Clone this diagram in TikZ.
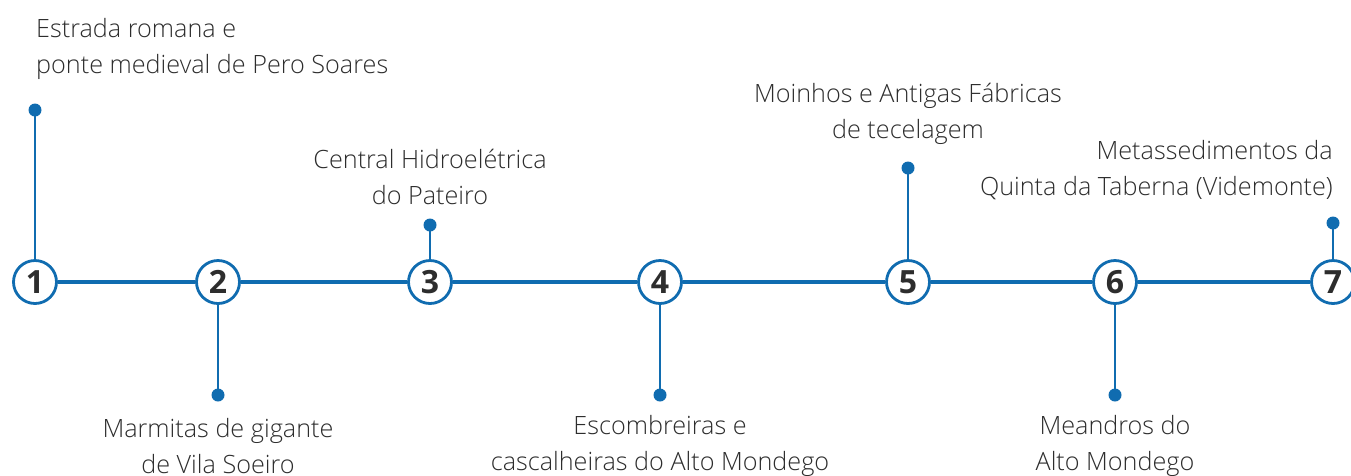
\documentclass[tikz,border=0pt]{standalone}
\usepackage{fontspec}
\setmainfont{Open Sans Light}
\newfontfamily\numfont{Open Sans}
\definecolor{tlblue}{RGB}{16,108,176}
\definecolor{tltext}{RGB}{45,45,45}
\begin{document}
\begin{tikzpicture}[x=1pt,y=-1pt,
  stop/.style={circle,draw=tlblue,line width=2.8pt,fill=white,minimum size=43pt,inner sep=0pt,font=\numfont\bfseries\fontsize{32}{32}\selectfont,text=tltext},
  pin/.style={circle,fill=tlblue,minimum size=13pt,inner sep=0pt},
  mainline/.style={draw=tlblue,line width=4.4pt},
  stem/.style={draw=tlblue,line width=1.8pt},
  lbl/.style={font=\fontsize{25.2}{35.5}\selectfont,text=tltext,inner sep=0pt}]
\useasboundingbox (0,0) rectangle (1351,475);
\clip (0,0) rectangle (1351,475);
\node[stop] (c1) at (35,282) {1};
\node[stop] (c2) at (218,282) {2};
\node[stop] (c3) at (430,282) {3};
\node[stop] (c4) at (660,282) {4};
\node[stop] (c5) at (908,282) {5};
\node[stop] (c6) at (1115,282) {6};
\node[stop] (c7) at (1333,282) {7};
\draw[mainline] (c1) -- (c2);
\draw[mainline] (c2) -- (c3);
\draw[mainline] (c3) -- (c4);
\draw[mainline] (c4) -- (c5);
\draw[mainline] (c5) -- (c6);
\draw[mainline] (c6) -- (c7);
\node[pin] (d1) at (35,110) {};
\node[pin] (d2) at (218,395) {};
\node[pin] (d3) at (430,225) {};
\node[pin] (d4) at (660,395) {};
\node[pin] (d5) at (908,168) {};
\node[pin] (d6) at (1115,395) {};
\node[pin] (d7) at (1333,223) {};
\draw[stem] (c1) -- (d1.center);
\draw[stem] (c2) -- (d2.center);
\draw[stem] (c3) -- (d3.center);
\draw[stem] (c4) -- (d4.center);
\draw[stem] (c5) -- (d5.center);
\draw[stem] (c6) -- (d6.center);
\draw[stem] (c7) -- (d7.center);
\node[lbl,align=left,anchor=west] (t1) at (36,49) {Estrada romana e\\ponte medieval de Pero Soares};
\node[lbl,align=center] (t2) at (218,446) {Marmitas de gigante\\de Vila Soeiro};
\node[lbl,align=center] (t3) at (430,177) {Central Hidroelétrica\\do Pateiro};
\node[lbl,align=center] (t4) at (660,446) {Escombreiras e\\cascalheiras do Alto Mondego};
\node[lbl,align=center] (t5) at (908,114) {Moinhos e Antigas Fábricas\\de tecelagem};
\node[lbl,align=center] (t6) at (1115,446) {Meandros do\\Alto Mondego};
\node[lbl,align=right,anchor=east] (t7) at (1333,170) {Metassedimentos da\\Quinta da Taberna (Videmonte)};
\end{tikzpicture}
\end{document}
